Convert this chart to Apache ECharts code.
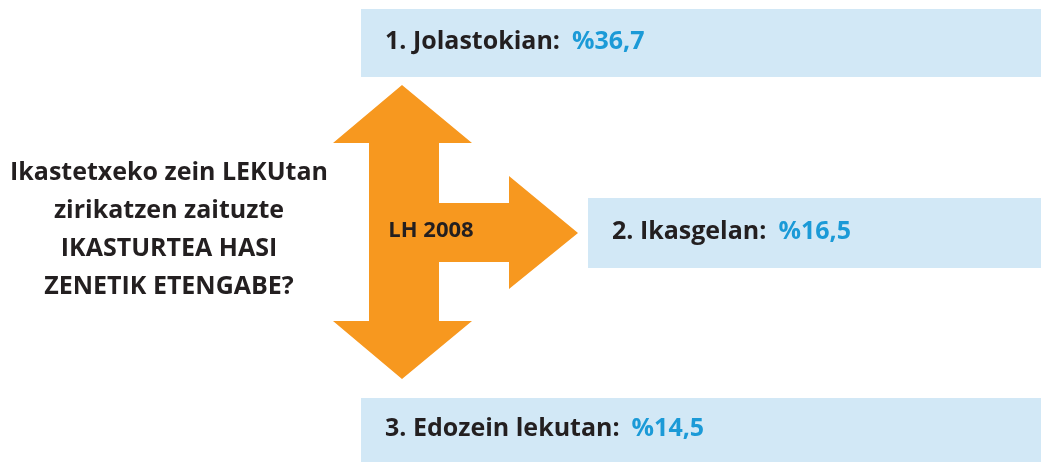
<!DOCTYPE html>
<html>
<head>
<meta charset="utf-8">
<script src="https://cdn.jsdelivr.net/npm/echarts@6/dist/echarts.min.js"></script>
<style>
  html, body { margin: 0; padding: 0; background: #fff; }
  #main { width: 1044px; height: 463px; }
</style>
</head>
<body>
<div id="main"></div>
<script>
// datuak
var lekuak = ['1. Jolastokian:', '2. Ikasgelan:', '3. Edozein lekutan:'];
var ehunekoak = ['%36,7', '%16,5', '%14,5'];
var galdera = ['Ikastetxeko zein LEKUtan', 'zirikatzen zaituzte', 'IKASTURTEA HASI', 'ZENETIK ETENGABE?'];
var urtea = 'LH 2008';

var font = '"Open Sans", "Noto Sans", sans-serif';
var ilun = '#231f20';
var urdin = '#1b9ad7';
var kutxa = '#d2e8f6';
var laranja = '#f7981f';

// kutxen tokiak (x, y, zabalera, altuera)
var kutxak = [
  [361, 9, 680, 68],
  [588, 198, 453, 70],
  [361, 398, 680, 64]
];

var grafikoak = [];

kutxak.forEach(function (k, i) {
  grafikoak.push({
    type: 'rect',
    shape: { x: k[0], y: k[1], width: k[2], height: k[3] },
    style: { fill: kutxa }
  });
  grafikoak.push({
    type: 'text',
    x: k[0] + 24,
    y: k[1] + k[3] / 2 - 1,
    style: {
      text: '{a|' + lekuak[i] + '}{s| }{b|' + ehunekoak[i] + '}',
      verticalAlign: 'middle',
      rich: {
        a: { fontFamily: font, fontWeight: 'bold', fontSize: 25, fill: ilun },
        s: { fontFamily: font, fontSize: 25, width: 12 },
        b: { fontFamily: font, fontWeight: 'bold', fontSize: 25, fill: urdin }
      }
    }
  });
});

// gezia
grafikoak.push({
  type: 'polygon',
  shape: {
    points: [
      [402, 85], [472, 143], [439, 143], [439, 203], [509, 203], [509, 176],
      [578, 233], [509, 289], [509, 262], [439, 262], [439, 321], [472, 321],
      [402, 379], [333, 321], [369, 321], [369, 143], [333, 143]
    ]
  },
  style: { fill: laranja }
});

grafikoak.push({
  type: 'text',
  x: 431,
  y: 231,
  style: {
    text: urtea,
    fontFamily: font, fontWeight: 'bold', fontSize: 22, fill: ilun,
    align: 'center', verticalAlign: 'middle'
  }
});

grafikoak.push({
  type: 'text',
  x: 169,
  y: 230,
  style: {
    text: galdera.join('\n'),
    fontFamily: font, fontWeight: 'bold', fontSize: 25, fill: ilun,
    align: 'center', verticalAlign: 'middle', lineHeight: 38
  }
});

var chart = echarts.init(document.getElementById('main'));
chart.setOption({
  animation: false,
  graphic: grafikoak
});
</script>
</body>
</html>
